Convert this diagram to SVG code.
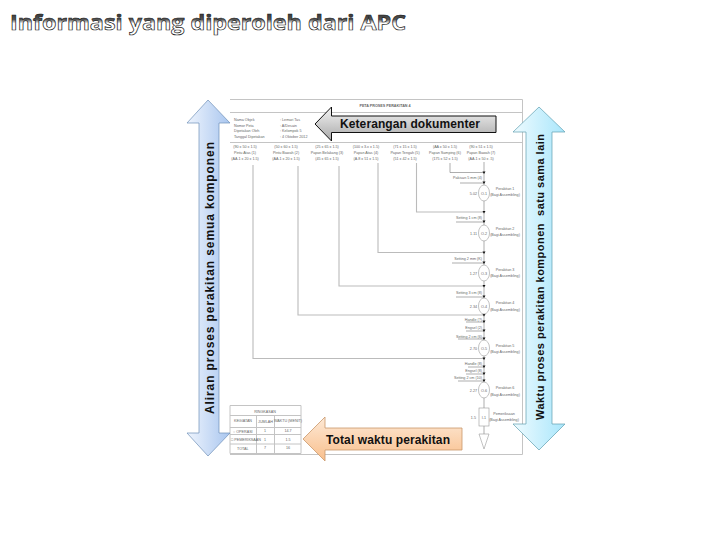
<svg xmlns="http://www.w3.org/2000/svg" width="720" height="540" viewBox="0 0 720 540">
<style>
.t{font-family:"Liberation Sans",Arial,sans-serif;font-size:3.700px;fill:#666}
.m{text-anchor:middle}.e{text-anchor:end}
.gl{fill:none;stroke:#bbb;stroke-width:1.100}
.dk{fill:none;stroke:#777;stroke-width:.6}
.fr{fill:none;stroke:#c4c4c4;stroke-width:1}
.nd{fill:#fff;stroke:#999;stroke-width:.6}
.lab{font-family:"Liberation Sans",Arial,sans-serif;font-weight:700;fill:#111}
</style>
<defs>
<linearGradient id="gt" x1="0" y1="0" x2="0" y2="1"><stop offset="0" stop-color="#111"/><stop offset=".45" stop-color="#555"/><stop offset=".58" stop-color="#fff"/><stop offset="1" stop-color="#fff"/></linearGradient>
<linearGradient id="gb" x1="0" y1="0" x2="1" y2="0"><stop offset="0" stop-color="#eef4fd"/><stop offset="1" stop-color="#a9c6ef"/></linearGradient>
<linearGradient id="gc" x1="0" y1="0" x2="1" y2="0"><stop offset="0" stop-color="#eefbff"/><stop offset="1" stop-color="#a9e6fb"/></linearGradient>
<linearGradient id="gg" x1="0" y1="0" x2="0" y2="1"><stop offset="0" stop-color="#f4f4f4"/><stop offset="1" stop-color="#a8a8a8"/></linearGradient>
<linearGradient id="go" x1="0" y1="0" x2="0" y2="1"><stop offset="0" stop-color="#fde9d6"/><stop offset="1" stop-color="#f9bf8c"/></linearGradient>
<polygon id="ah" points="-1.500,-2.500 1.500,-2.500 0,0" fill="#111"/>
</defs>
<rect width="720" height="540" fill="#fff"/>
<text id="title" x="10" y="30" font-family="'Open Sans','DejaVu Sans',sans-serif" font-weight="700" font-size="22" fill="url(#gt)" stroke="#222" stroke-width=".7" textLength="396" lengthAdjust="spacingAndGlyphs">Informasi yang diperoleh dari APC</text>

<g id="dokumen">
<path class="fr" d="M230 99.500H522.500V454.500H230"/>
<path class="fr" d="M230 112.500H522M230 142.500H522"/>
<text class="t m" x="385" y="107" font-weight="700" fill="#333">PETA PROSES PERAKITAN 4</text>
<text class="t" x="234" y="121">Nama Objek</text><text class="t" x="280" y="121">: Lemari Tas</text>
<text class="t" x="234" y="126.500">Nomor Peta</text><text class="t" x="280" y="126.500">: A/Desain</text>
<text class="t" x="234" y="132">Dipetakan Oleh</text><text class="t" x="280" y="132">: Kelompok 5</text>
<text class="t" x="234" y="138">Tanggal Dipetakan</text><text class="t" x="280" y="138">: 4 Oktober 2012</text>
<text class="t m" x="245" y="148">(90 x 50 x 1.5)</text><text class="t m" x="245" y="153.500">Pintu Atas (1)</text><text class="t m" x="245" y="159.500">(AA.1 x 20 x 1.5)</text>
<text class="t m" x="286" y="148">(50 x 60 x 1.5)</text><text class="t m" x="286" y="153.500">Pintu Bawah (2)</text><text class="t m" x="286" y="159.500">(AA.1 x 20 x 1.5)</text>
<text class="t m" x="327" y="148">(25 x 65 x 1.5)</text><text class="t m" x="327" y="153.500">Papan Belakang (3)</text><text class="t m" x="327" y="159.500">(45 x 65 x 1.5)</text>
<text class="t m" x="366" y="148">(100 x 3.x x 1.5)</text><text class="t m" x="366" y="153.500">Papan Atas (4)</text><text class="t m" x="366" y="159.500">(A.8 x 51 x 1.5)</text>
<text class="t m" x="405" y="148">(71 x 15 x 1.5)</text><text class="t m" x="405" y="153.500">Papan Tengah (5)</text><text class="t m" x="405" y="159.500">(51 x 42 x 1.5)</text>
<text class="t m" x="445" y="148">(AA x 50 x 1.5)</text><text class="t m" x="445" y="153.500">Papan Samping (6)</text><text class="t m" x="445" y="159.500">(175 x 52 x 1.5)</text>
<text class="t m" x="481" y="148">(90 x 51 x 1.5)</text><text class="t m" x="481" y="153.500">Papan Bawah (7)</text><text class="t m" x="481" y="159.500">(AA.1 x 50 x .5)</text>
</g>

<g id="connectors">
<path class="gl" d="M253 165V358.500H484"/>
<path class="gl" d="M298 166V315H484"/>
<path class="gl" d="M339 166V286H484" stroke-width=".8"/>
<path class="gl" d="M378 163V252.500H484" stroke-width="1.300"/>
<path class="gl" d="M416.500 163V212H484"/>
<path class="dk" d="M450 163V172.500H484"/>
<path class="dk" d="M484 162V408M484 426V434"/>
<path class="dk" d="M460 183H484M456 222H484M452 263H484M456 297H484M466 322H484M466 331H484M458 339H484M468 367H484M466 374H484M458 381H484"/>
<use href="#ah" x="484" y="174"/><use href="#ah" x="484" y="184"/><use href="#ah" x="484" y="213.500"/><use href="#ah" x="484" y="223"/>
<use href="#ah" x="484" y="254"/><use href="#ah" x="484" y="264"/><use href="#ah" x="484" y="287.500"/><use href="#ah" x="484" y="298"/>
<use href="#ah" x="484" y="316.500"/><use href="#ah" x="484" y="323"/><use href="#ah" x="484" y="332"/><use href="#ah" x="484" y="340"/>
<use href="#ah" x="484" y="360"/><use href="#ah" x="484" y="368"/><use href="#ah" x="484" y="375"/><use href="#ah" x="484" y="382"/>
</g>

<g id="feed-labels">
<text class="t e" x="482" y="179">Pakisan 5 mm (4)</text>
<text class="t e" x="482" y="219">Setting 1 cm (8)</text>
<text class="t e" x="482" y="260">Setting 2 mm (K)</text>
<text class="t e" x="482" y="294">Setting 3 cm (8)</text>
<text class="t e" x="482" y="320.500">Handle (?)</text>
<text class="t e" x="482" y="329">Engsel (2)</text>
<text class="t e" x="482" y="337.500">Setting 2 cm (6)</text>
<text class="t e" x="482" y="365">Handle (8)</text>
<text class="t e" x="482" y="372">Engsel (8)</text>
<text class="t e" x="482" y="379">Setting 2 cm (10)</text>
</g>

<g id="op1"><ellipse class="nd" cx="484" cy="193" rx="5.500" ry="8"/><text class="t m" x="484" y="194.500">O-1</text><text class="t e" x="477" y="194.500">5.02</text><text class="t m" x="505" y="190">Perakitan 1</text><text class="t m" x="505" y="196">(Bagi Assembling)</text></g>
<g id="op2"><ellipse class="nd" cx="484" cy="233" rx="5.500" ry="8"/><text class="t m" x="484" y="234.500">O-2</text><text class="t e" x="477" y="234.500">1.11</text><text class="t m" x="505" y="230">Perakitan 2</text><text class="t m" x="505" y="236">(Bagi Assembling)</text></g>
<g id="op3"><ellipse class="nd" cx="484" cy="273" rx="5.500" ry="8"/><text class="t m" x="484" y="274.500">O-3</text><text class="t e" x="477" y="274.500">1.27</text><text class="t m" x="505" y="271">Perakitan 3</text><text class="t m" x="505" y="277">(Bagi Assembling)</text></g>
<g id="op4"><ellipse class="nd" cx="484" cy="306" rx="5.500" ry="8"/><text class="t m" x="484" y="307.500">O-4</text><text class="t e" x="477" y="307.500">2.34</text><text class="t m" x="505" y="304">Perakitan 4</text><text class="t m" x="505" y="311">(Bagi Assembling)</text></g>
<g id="op5"><ellipse class="nd" cx="484" cy="348" rx="5.500" ry="8"/><text class="t m" x="484" y="349.500">O-5</text><text class="t e" x="477" y="349.500">2.70</text><text class="t m" x="505" y="347">Perakitan 5</text><text class="t m" x="505" y="353">(Bagi Assembling)</text></g>
<g id="op6"><ellipse class="nd" cx="484" cy="390" rx="5.500" ry="8"/><text class="t m" x="484" y="391.500">O-6</text><text class="t e" x="477" y="391.500">2.27</text><text class="t m" x="505" y="389">Perakitan 6</text><text class="t m" x="505" y="396">(Bagi Assembling)</text></g>
<g id="insp"><rect class="nd" x="479" y="408" width="10" height="18"/><text class="t m" x="484" y="418.500">I-1</text><text class="t e" x="476" y="418.500">1.5</text><text class="t m" x="504" y="415">Pemeriksaan</text><text class="t m" x="504" y="421">(Bagi Assembling)</text></g>
<g id="storage"><polygon class="nd" points="479,434 489,434 484,449"/></g>

<g id="ringkasan">
<path class="fr" stroke-width=".7" d="M230 405.500H301V453.500H230ZM230 415.500H301M230 427.500H301M230 434.500H301M230 444H301M256.500 415.500V453.500M274.500 415.500V453.500"/>
<text class="t m" x="265" y="412.500" fill="#333">RINGKASAN</text>
<text class="t m" x="243" y="422">KEGIATAN</text><text class="t m" x="265.500" y="423">JUMLAH</text><text class="t m" x="288" y="422" font-size="3.300">WAKTU (MENIT)</text>
<text class="t" x="233" y="432.500">○ OPERASI</text><text class="t m" x="265" y="432">1</text><text class="t m" x="288" y="432">14.7</text>
<text class="t" x="231" y="441" font-size="3.300">□ PEMERIKSAAN</text><text class="t m" x="265" y="441">1</text><text class="t m" x="288" y="441">1.5</text>
<text class="t" x="237" y="450">TOTAL</text><text class="t m" x="265" y="449">7</text><text class="t m" x="288" y="449">16</text>
</g>

<g id="panah-aliran">
<polygon points="208,100 230,123 219,123 219,433 230,433 208,456 187,433 199,433 199,123 187,123" fill="url(#gb)" stroke="#6f8fb8" stroke-width=".7"/>
<text class="lab" transform="translate(213.500,414) rotate(-90)" font-size="12" textLength="272" lengthAdjust="spacing">Aliran proses perakitan semua komponen</text>
</g>

<g id="panah-waktu">
<polygon points="539,107 565,132 552,132 552,424 565,424 539,450 513,424 526,424 526,132 513,132" fill="url(#gc)" stroke="#5f9fb0" stroke-width=".7"/>
<text class="lab" transform="translate(543.500,420) rotate(-90)" font-size="11" textLength="286" lengthAdjust="spacing" xml:space="preserve">Waktu proses perakitan komponen  satu sama lain</text>
</g>

<g id="callout-keterangan">
<polygon points="315,124 331.500,107 331.500,116 496,116 496,132.500 331.500,132.500 331.500,141" fill="url(#gg)" stroke="#111" stroke-width="1"/>
<text class="lab" x="340" y="128" font-size="12" textLength="140" lengthAdjust="spacing">Keterangan dokumenter</text>
</g>

<g id="callout-total">
<polygon points="303,439 325,417 325,428 462,428 462,450 325,450 325,461" fill="url(#go)" stroke="#c9986b" stroke-width=".8"/>
<text class="lab" x="326" y="444" font-size="12" textLength="124" lengthAdjust="spacing">Total waktu perakitan</text>
</g>
</svg>
